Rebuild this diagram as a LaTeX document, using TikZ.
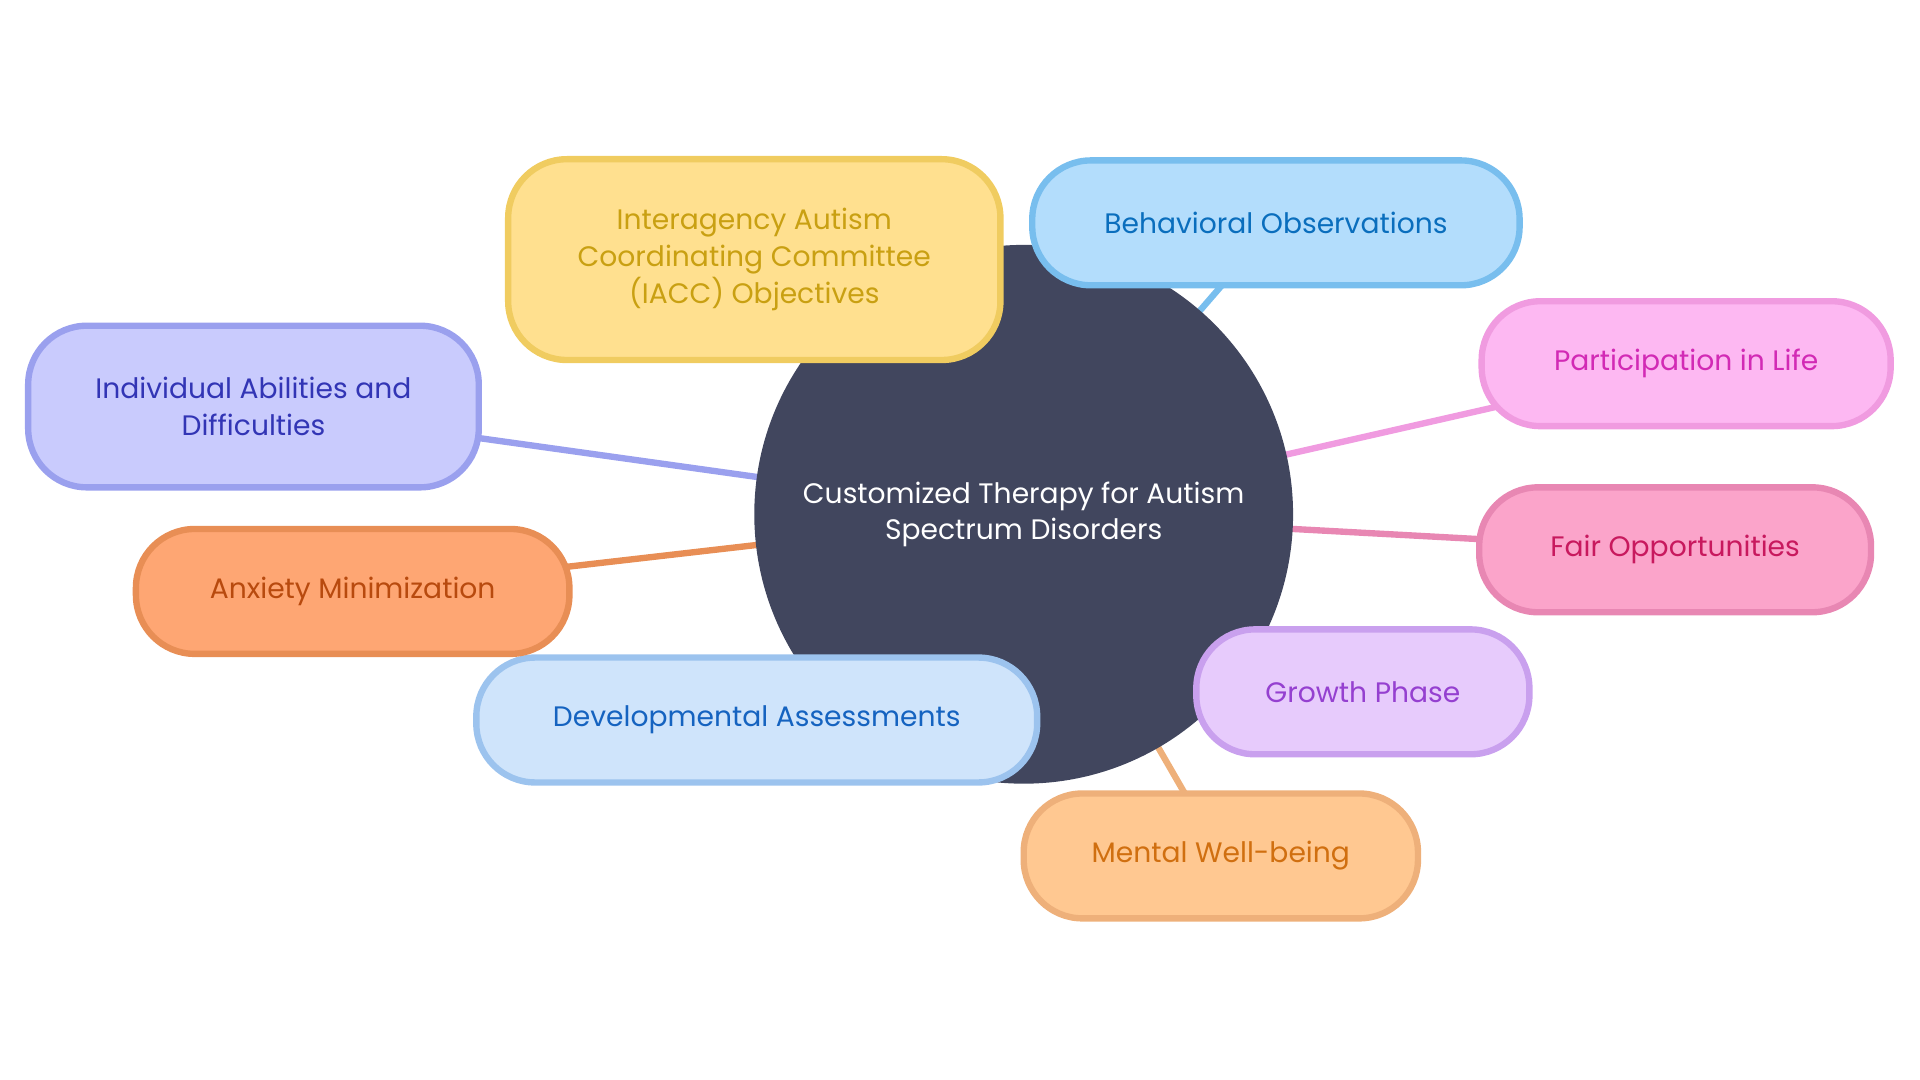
\documentclass[tikz,border=0pt]{standalone}
\usepackage{fontspec}
\setmainfont{Poppins}
\begin{document}
\begin{tikzpicture}[x=0.5pt,y=-0.5pt,
 box/.style={draw,rounded corners=24pt,line width=2.6pt,align=center,font=\fontsize{11.5}{15}\selectfont,inner sep=0pt},
 link/.style={line width=2.6pt}]
\useasboundingbox (0,0) rectangle (1568,882);
\definecolor{cA}{HTML}{FFE08F}\definecolor{sA}{HTML}{F0CC60}\definecolor{tA}{HTML}{C9A012}
\definecolor{cB}{HTML}{B3DDFC}\definecolor{sB}{HTML}{78BEEE}\definecolor{tB}{HTML}{0A6EBD}
\definecolor{cC}{HTML}{FDB8F2}\definecolor{sC}{HTML}{F09BE0}\definecolor{tC}{HTML}{D22AB5}
\definecolor{cD}{HTML}{FBA4CA}\definecolor{sD}{HTML}{E887B3}\definecolor{tD}{HTML}{C8195E}
\definecolor{cE}{HTML}{E7CBFC}\definecolor{sE}{HTML}{C9A0EE}\definecolor{tE}{HTML}{9540D0}
\definecolor{cF}{HTML}{FFC891}\definecolor{sF}{HTML}{EEB07A}\definecolor{tF}{HTML}{D06F10}
\definecolor{cG}{HTML}{CFE4FB}\definecolor{sG}{HTML}{9CC3EE}\definecolor{tG}{HTML}{1563C0}
\definecolor{cH}{HTML}{FEA673}\definecolor{sH}{HTML}{E88E55}\definecolor{tH}{HTML}{B84A0E}
\definecolor{cI}{HTML}{C9CBFD}\definecolor{sI}{HTML}{9AA0EE}\definecolor{tI}{HTML}{3235B5}
\definecolor{hub}{HTML}{41465E}
\coordinate (c) at (836,420);
\coordinate (pA) at (616,212);\coordinate (pB) at (1042,182);\coordinate (pC) at (1377,297);
\coordinate (pD) at (1368,449);\coordinate (pE) at (1113,565);\coordinate (pF) at (997,699);
\coordinate (pG) at (618,588);\coordinate (pH) at (288,483);\coordinate (pI) at (207,332);
\draw[link,sB] (c)--(pB); \draw[link,sC] (c)--(pC); \draw[link,sD] (c)--(pD);
\draw[link,sF] (c)--(pF); \draw[link,sH] (c)--(pH); \draw[link,sI] (c)--(pI);
\draw[link,sA] (c)--(pA); \draw[link,sE] (c)--(pE); \draw[link,sG] (c)--(pG);
\node[circle,fill=hub,minimum size=220pt,inner sep=0pt,text=white,align=center,font=\fontsize{11.5}{15}\selectfont] (hubn) at (c) {Customized Therapy for Autism\\Spectrum Disorders};
\node[box,fill=cA,draw=sA,text=tA,minimum width=201pt,minimum height=82pt] (A) at (pA) {Interagency Autism\\Coordinating Committee\\(IACC) Objectives};
\node[box,fill=cB,draw=sB,text=tB,minimum width=199pt,minimum height=51pt] (B) at (pB) {Behavioral Observations};
\node[box,fill=cC,draw=sC,text=tC,minimum width=167pt,minimum height=51pt] (C) at (pC) {Participation in Life};
\node[box,fill=cD,draw=sD,text=tD,minimum width=160pt,minimum height=51pt] (D) at (pD) {Fair Opportunities};
\node[box,fill=cE,draw=sE,text=tE,minimum width=136pt,minimum height=51pt] (E) at (pE) {Growth Phase};
\node[box,fill=cF,draw=sF,text=tF,minimum width=161pt,minimum height=51pt] (F) at (pF) {Mental Well-being};
\node[box,fill=cG,draw=sG,text=tG,minimum width=229pt,minimum height=51pt] (G) at (pG) {Developmental Assessments};
\node[box,fill=cH,draw=sH,text=tH,minimum width=177pt,minimum height=51pt] (H) at (pH) {Anxiety Minimization};
\node[box,fill=cI,draw=sI,text=tI,minimum width=184pt,minimum height=66pt] (I) at (pI) {Individual Abilities and\\Difficulties};
\end{tikzpicture}
\end{document}
